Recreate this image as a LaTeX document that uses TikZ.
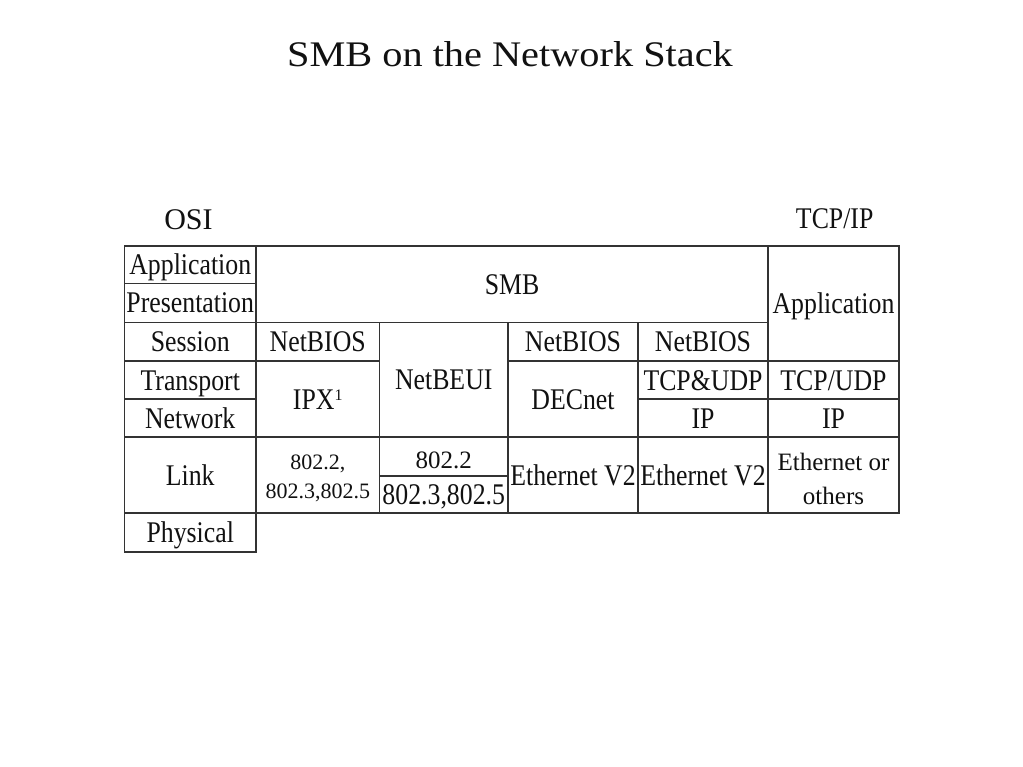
\documentclass[tikz,border=0pt]{standalone}
\usepackage{fontspec}
\setmainfont{Liberation Serif}
\newfontfamily\tabfont[FakeStretch=0.86]{Liberation Serif}
\newfontfamily\tabplain{Liberation Serif}
\newfontfamily\titlefont[FakeStretch=1.12]{Liberation Serif}
\definecolor{ink}{HTML}{111111}
\definecolor{rulecol}{HTML}{333333}
\tikzset{
  cellbox/.style={draw=rulecol, line width=1.9pt, inner sep=0pt, outer sep=0pt,
    text=ink, font=\tabfont\fontsize{30}{34}\selectfont, text height=20pt, text depth=0pt},
  linetext/.style={inner sep=0pt, outer sep=0pt, anchor=base, text=ink},
  bigtab/.style={linetext, font=\tabfont\fontsize{30}{34}\selectfont},
  midtab/.style={linetext, font=\tabplain\fontsize{25}{28}\selectfont},
  smalltab/.style={linetext, font=\tabplain\fontsize{22}{25}\selectfont},
}
\newcommand\mkcell[7][]{\node[cellbox,#1,minimum width={#5-#3},minimum height={#6-#4}] (#2) at ({(#3+#5)/2},{(#4+#6)/2}) {#7};}
\begin{document}
\begin{tikzpicture}[x=1pt,y=-1pt]
\useasboundingbox[fill=white] (0,0) rectangle (1023,767);
% title
\node[linetext, font=\titlefont\fontsize{36}{40}\selectfont] (title) at (510,66.7) {SMB on the Network Stack};
% column headings
\node[linetext, font=\tabplain\fontsize{30}{34}\selectfont] (osi) at (188.5,230) {OSI};
\node[bigtab] (tcpip) at (834.7,228.5) {TCP/IP};
% OSI column
\mkcell{app}{124.5}{245.7}{256}{283.5}{Application}
\mkcell{pres}{124.5}{283.5}{256}{322.5}{Presentation}
\mkcell{sess}{124.5}{322.5}{256}{361}{Session}
\mkcell{trans}{124.5}{361}{256}{399}{Transport}
\mkcell{netw}{124.5}{399}{256}{437.3}{Network}
\mkcell{link}{124.5}{437.3}{256}{513.3}{Link}
\mkcell{phys}{124.5}{513.3}{256}{551.7}{Physical}
% SMB
\mkcell{smb}{256}{245.7}{768}{322.5}{SMB}
% IPX column
\mkcell{nbA}{256}{322.5}{379.5}{361}{NetBIOS}
\mkcell{ipx}{256}{361}{379.5}{437.3}{IPX\raisebox{8.5pt}{\tabplain\fontsize{16}{16}\selectfont 1}}
\mkcell{ipxlink}{256}{437.3}{379.5}{513.3}{}
\node[smalltab] (ipxlinkA) at (317.75,469) {802.2,};
\node[smalltab] (ipxlinkB) at (317.75,498) {802.3,802.5};
% NetBEUI column
\mkcell{netbeui}{379.5}{322.5}{508}{437.3}{NetBEUI}
\mkcell{llc}{379.5}{437.3}{508}{476.3}{}
\node[midtab] (llctext) at (443.75,468) {802.2};
\mkcell{mac}{379.5}{476.3}{508}{513.3}{802.3,802.5}
% DECnet column
\mkcell{nbC}{508}{322.5}{638}{361}{NetBIOS}
\mkcell{decnet}{508}{361}{638}{437.3}{DECnet}
\mkcell{ethC}{508}{437.3}{638}{513.3}{Ethernet V2}
% NetBIOS over TCP column
\mkcell{nbD}{638}{322.5}{768}{361}{NetBIOS}
\mkcell{tcpudpD}{638}{361}{768}{399}{TCP\&UDP}
\mkcell{ipD}{638}{399}{768}{437.3}{IP}
\mkcell{ethD}{638}{437.3}{768}{513.3}{Ethernet V2}
% TCP/IP column
\mkcell{tapp}{768}{245.7}{899}{361}{Application}
\mkcell{tcpudpE}{768}{361}{899}{399}{TCP/UDP}
\mkcell{ipE}{768}{399}{899}{437.3}{IP}
\mkcell{ethE}{768}{437.3}{899}{513.3}{}
\node[midtab] (ethEa) at (833.5,470) {Ethernet or};
\node[midtab] (ethEb) at (833.5,504) {others};
\end{tikzpicture}
\end{document}
